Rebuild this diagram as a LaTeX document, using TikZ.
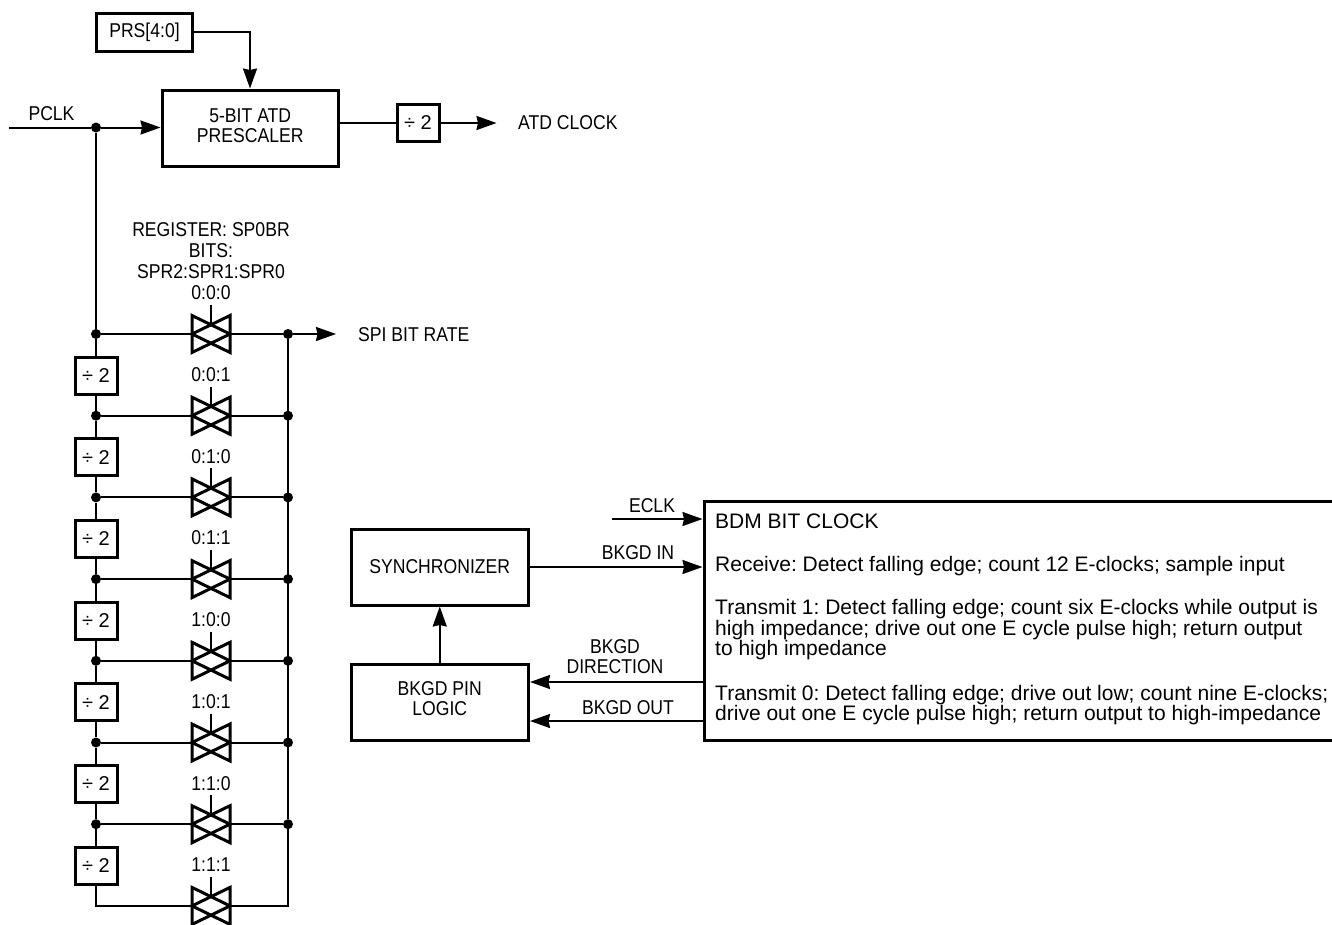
\documentclass[tikz,border=0pt]{standalone}
\usepackage{fontspec}
\setmainfont{Liberation Sans}
\newfontfamily\labelfont[FakeStretch=0.88]{Liberation Sans}
\usetikzlibrary{arrows.meta}

\tikzset{
    block/.style={draw, line width=3pt, inner sep=0pt, anchor=north west, align=center, font=\labelfont\fontsize{20}{20}\selectfont},
    divbox/.style={block, anchor=center, minimum width=42pt, minimum height=37pt, font=\fontsize{20}{20}\selectfont},
    txt/.style={inner sep=0pt, align=center, font=\labelfont\fontsize{20}{20}\selectfont},
    wire/.style={line width=2pt},
    flow/.style={wire, -{Stealth[length=20pt,width=14pt,inset=1.5pt]}},
    dot/.style={circle, fill=black, inner sep=0pt, minimum size=10pt},
    tgate/.pic={
        \draw[line width=3pt] (-19,-18.5) -- (19,0) -- (-19,18.5) -- cycle;
        \draw[line width=3pt] (19,-18.5) -- (-19,0) -- (19,18.5) -- cycle;
        \draw[wire] (0,-29) -- (0,-9.5);
        \coordinate (-west) at (-19,0);
        \coordinate (-east) at (19,0);
    }
}

\begin{document}
\begin{tikzpicture}[x=1pt, y=-1pt]
    \useasboundingbox (0,0) rectangle (1332,924);

    % Prescaler path
    \node[block, minimum width=96pt, minimum height=38pt] (prs) at (95,11.5) {PRS[4:0]};
    \node[block, minimum width=176.5pt, minimum height=76pt, text depth=4pt] (prescaler) at (160.5,88.5) {5-BIT ATD\\PRESCALER};
    \node[divbox] (divatd) at (418,123) {÷ 2};
    \coordinate (pclkin) at (9,127.5);
    \coordinate (atdout) at (496.5,123);
    \node[dot] (pclkdot) at (96,127.5) {};
    \node[txt] (pclklabel) at (51.5,114) {PCLK};
    \node[txt, anchor=west] (atdlabel) at (518,123) {ATD CLOCK};
    \draw[flow] (prs.east) -| (prescaler.north -| 250,0);
    \draw[wire] (pclkin) -- (pclkdot);
    \draw[flow] (pclkdot) -- (prescaler.west |- pclkdot);
    \draw[wire] (prescaler.east |- divatd) -- (divatd);
    \draw[flow] (divatd.east) -- (atdout);

    % Register labels
    \node[txt] (reglabel) at (211,250.5) {REGISTER: SP0BR\\[1pt]BITS:\\[1pt]SPR2:SPR1:SPR0};

    % Gates and divider chain
    \foreach \i/\bits in {0/0:0:0, 1/0:0:1, 2/0:1:0, 3/0:1:1, 4/1:0:0, 5/1:0:1, 6/1:1:0, 7/1:1:1} {
        \pgfmathsetmacro{\rowy}{334+81.7*\i}
        \pic (gate\i) at (211,\rowy) {tgate};
        \node[txt] (bits\i) at (211,\rowy-41) {\bits};
    }
    \foreach \i in {0,...,6} {
        \pgfmathsetmacro{\rowy}{334+81.7*\i}
        \node[dot] (left\i) at (96,\rowy) {};
        \node[dot] (right\i) at (288,\rowy) {};
        \draw[wire] (left\i) -- (gate\i-west);
        \draw[wire] (gate\i-east) -- (right\i);
    }
    \foreach \i [count=\j from 1] in {0,...,6} {
        \pgfmathsetmacro{\boxy}{375.5+81.7*\i}
        \node[divbox] (div\j) at (96,\boxy) {÷ 2};
        \draw[wire] (left\i) -- (div\j);
    }
    \foreach \i in {1,...,6} {
        \draw[wire] (div\i) -- (left\i);
    }
    \draw[wire] (div7.south) |- (gate7-west);
    \draw[wire] (gate7-east) -| (right6);
    \draw[wire] (pclkdot) -- (left0);
    \draw[wire] (right0) -- (right6);
    \draw[flow] (right0) -- (336,334);
    \node[txt, anchor=west] (spilabel) at (358,335) {SPI BIT RATE};

    % BDM part
    \node[block, minimum width=177.5pt, minimum height=76pt] (sync) at (349.5,527.5) {SYNCHRONIZER};
    \node[block, minimum width=177.5pt, minimum height=76pt, text depth=7pt] (pinlogic) at (349.5,662.5) {BKGD PIN\\LOGIC};
    \node[block, minimum width=640pt, minimum height=239pt] (bdm) at (702.5,499.5) {};
    \node[inner sep=0pt, anchor=north west, align=left, font=\frenchspacing\fontsize{21}{20.5}\selectfont] (bdmtext) at (715,514)
        {BDM BIT CLOCK\\[22.5pt]
         Receive: Detect falling edge; count 12 E-clocks; sample input\\[22.5pt]
         Transmit 1: Detect falling edge; count six E-clocks while output is\\
         high impedance; drive out one E cycle pulse high; return output\\
         to high impedance\\[24pt]
         Transmit 0: Detect falling edge; drive out low; count nine E-clocks;\\
         drive out one E cycle pulse high; return output to high-impedance};
    \coordinate (eclkin) at (612,519);
    \draw[flow] (eclkin) -- (eclkin -| bdm.west);
    \draw[flow] (sync.east |- 0,567) -- (bdm.west |- 0,567);
    \draw[flow] (bdm.west |- 0,682) -- (pinlogic.east |- 0,682);
    \draw[flow] (bdm.west |- 0,721) -- (pinlogic.east |- 0,721);
    \draw[flow] (pinlogic.north) -- (sync.south);
    \node[txt] (eclklabel) at (652,506) {ECLK};
    \node[txt] (bkgdinlabel) at (638,553) {BKGD IN};
    \node[txt] (dirlabel) at (615,657) {BKGD\\DIRECTION};
    \node[txt] (outlabel) at (628,708) {BKGD OUT};
\end{tikzpicture}
\end{document}
